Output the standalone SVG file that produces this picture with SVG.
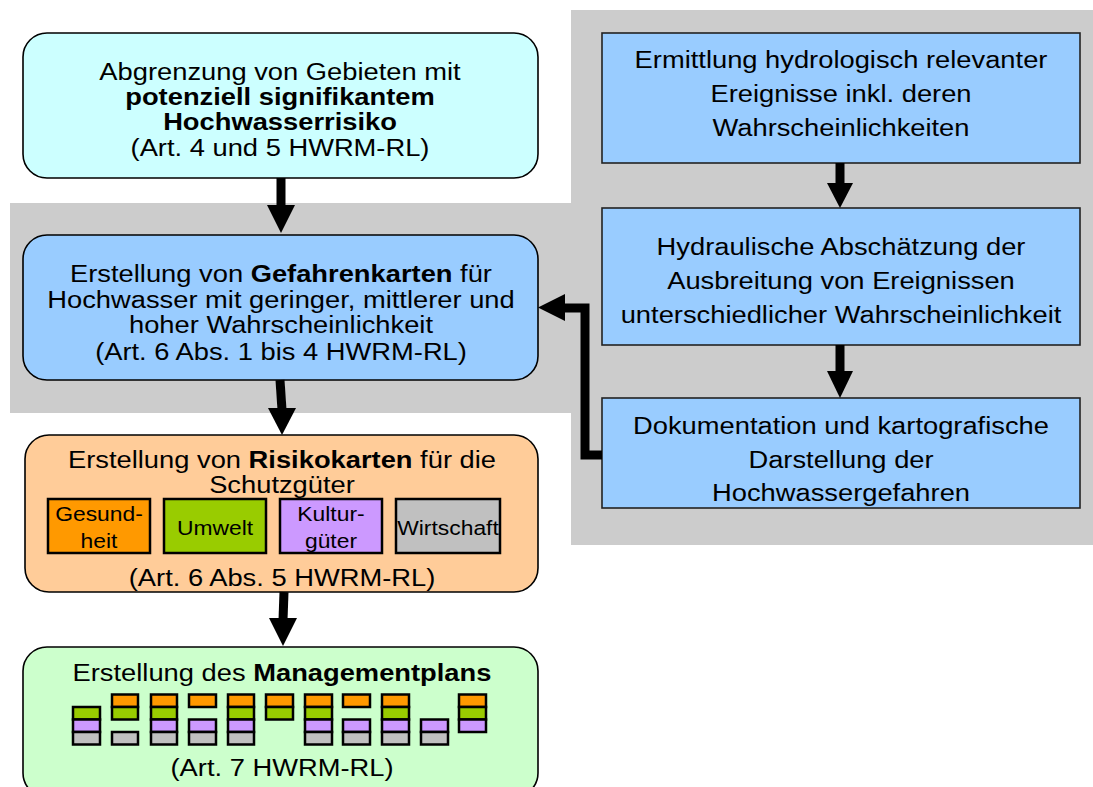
<svg xmlns="http://www.w3.org/2000/svg" width="1093" height="787" viewBox="0 0 1093 787">
<defs>
<style>
text{font-family:"Liberation Sans",Arial,sans-serif;fill:#000}
.t{font-size:24.5px;text-anchor:middle}
.s{font-size:20.5px;text-anchor:middle}
.b{font-weight:bold}
.rb{stroke:#000;stroke-width:1.6}
.rr{fill:#99CCFF;stroke:#222;stroke-width:1.6}
.c{stroke:#000;stroke-width:2.5}
.o{fill:#FF9900}.g{fill:#99CC00}.p{fill:#CC99FF}.y{fill:#C0C0C0}
.ln{fill:none;stroke:#000;stroke-width:9}
</style>
</defs>
<rect width="1093" height="787" fill="#fff"/>
<path id="bg" d="M571,10H1093V545H571V413H10V203H571Z" fill="#CCCCCC"/>
<g id="n1"><rect class="rb" x="23" y="33" width="515" height="145" rx="24" fill="#CCFFFF"/>
<text class="t" transform="translate(280,80) scale(1.115,1)">Abgrenzung von Gebieten mit</text>
<text class="t b" transform="translate(280,105) scale(1.115,1)">potenziell signifikantem</text>
<text class="t b" transform="translate(280,130) scale(1.115,1)">Hochwasserrisiko</text>
<text class="t" transform="translate(280,156) scale(1.115,1)">(Art. 4 und 5 HWRM-RL)</text></g>
<g id="n2"><rect class="rb" x="23" y="235" width="515" height="145" rx="24" fill="#99CCFF"/>
<text class="t" transform="translate(281,282) scale(1.115,1)">Erstellung von <tspan class="b">Gefahrenkarten</tspan> für</text>
<text class="t" transform="translate(281,308) scale(1.115,1)">Hochwasser mit geringer, mittlerer und</text>
<text class="t" transform="translate(281,333) scale(1.115,1)">hoher Wahrscheinlichkeit</text>
<text class="t" transform="translate(281,360) scale(1.115,1)">(Art. 6 Abs. 1 bis 4 HWRM-RL)</text></g>
<g id="n3"><rect class="rb" x="25" y="435" width="513" height="157" rx="24" fill="#FFCC99"/>
<text class="t" transform="translate(282,468) scale(1.115,1)">Erstellung von <tspan class="b">Risikokarten</tspan> für die</text>
<text class="t" transform="translate(282,493) scale(1.115,1)">Schutzgüter</text>
<rect class="c o" x="48" y="499" width="102" height="54"/>
<text class="s" transform="translate(99,521) scale(1.115,1)">Gesund-</text><text class="s" transform="translate(99,548) scale(1.115,1)">heit</text>
<rect class="c g" x="164" y="499" width="102" height="54"/>
<text class="s" transform="translate(215,535) scale(1.115,1)">Umwelt</text>
<rect class="c p" x="280" y="499" width="102" height="54"/>
<text class="s" transform="translate(331,521) scale(1.115,1)">Kultur-</text><text class="s" transform="translate(331,548) scale(1.115,1)">güter</text>
<rect class="c y" x="396" y="499" width="104" height="54"/>
<text class="s" transform="translate(448,535) scale(1.115,1)">Wirtschaft</text>
<text class="t" transform="translate(282,586) scale(1.115,1)">(Art. 6 Abs. 5 HWRM-RL)</text></g>
<g id="n4"><rect class="rb" x="23" y="647" width="515" height="150" rx="24" fill="#CCFFCC"/>
<text class="t" transform="translate(282,681) scale(1.115,1)">Erstellung des <tspan class="b">Managementplans</tspan></text>
<g id="blocks">
<rect class="c g" x="73" y="707" width="27" height="12.5"/><rect class="c p" x="73" y="719.5" width="27" height="12.5"/><rect class="c y" x="73" y="732" width="27" height="12.5"/>
<rect class="c o" x="112" y="694.5" width="26" height="12.5"/><rect class="c g" x="112" y="707" width="26" height="12.5"/><rect class="c y" x="112" y="732" width="26" height="12.5"/>
<rect class="c o" x="151" y="694.5" width="26" height="12.5"/><rect class="c g" x="151" y="707" width="26" height="12.5"/><rect class="c p" x="151" y="719.5" width="26" height="12.5"/><rect class="c y" x="151" y="732" width="26" height="12.5"/>
<rect class="c o" x="189" y="694.5" width="27" height="12.5"/><rect class="c p" x="189" y="719.5" width="27" height="12.5"/><rect class="c y" x="189" y="732" width="27" height="12.5"/>
<rect class="c o" x="228" y="694.5" width="26" height="12.5"/><rect class="c g" x="228" y="707" width="26" height="12.5"/><rect class="c p" x="228" y="719.5" width="26" height="12.5"/><rect class="c y" x="228" y="732" width="26" height="12.5"/>
<rect class="c o" x="266" y="694.5" width="27" height="12.5"/><rect class="c g" x="266" y="707" width="27" height="12.5"/>
<rect class="c o" x="305" y="694.5" width="27" height="12.5"/><rect class="c g" x="305" y="707" width="27" height="12.5"/><rect class="c p" x="305" y="719.5" width="27" height="12.5"/><rect class="c y" x="305" y="732" width="27" height="12.5"/>
<rect class="c o" x="343" y="694.5" width="27" height="12.5"/><rect class="c p" x="343" y="719.5" width="27" height="12.5"/><rect class="c y" x="343" y="732" width="27" height="12.5"/>
<rect class="c o" x="382" y="694.5" width="27" height="12.5"/><rect class="c g" x="382" y="707" width="27" height="12.5"/><rect class="c p" x="382" y="719.5" width="27" height="12.5"/><rect class="c y" x="382" y="732" width="27" height="12.5"/>
<rect class="c p" x="421" y="719.5" width="27" height="12.5"/><rect class="c y" x="421" y="732" width="27" height="12.5"/>
<rect class="c o" x="459" y="694.5" width="27" height="12.5"/><rect class="c g" x="459" y="707" width="27" height="12.5"/><rect class="c p" x="459" y="719.5" width="27" height="12.5"/>
</g>
<text class="t" transform="translate(282,776) scale(1.115,1)">(Art. 7 HWRM-RL)</text></g>
<g id="r1"><rect class="rr" x="602" y="33" width="478" height="130"/>
<text class="t" transform="translate(841,68) scale(1.115,1)">Ermittlung hydrologisch relevanter</text>
<text class="t" transform="translate(841,102) scale(1.115,1)">Ereignisse inkl. deren</text>
<text class="t" transform="translate(841,136) scale(1.115,1)">Wahrscheinlichkeiten</text></g>
<g id="r2"><rect class="rr" x="602" y="208" width="478" height="137"/>
<text class="t" transform="translate(841,255) scale(1.115,1)">Hydraulische Abschätzung der</text>
<text class="t" transform="translate(841,289) scale(1.115,1)">Ausbreitung von Ereignissen</text>
<text class="t" transform="translate(841,323) scale(1.115,1)">unterschiedlicher Wahrscheinlichkeit</text></g>
<g id="r3"><rect class="rr" x="602" y="398" width="478" height="110"/>
<text class="t" transform="translate(841,434) scale(1.115,1)">Dokumentation und kartografische</text>
<text class="t" transform="translate(841,468) scale(1.115,1)">Darstellung der</text>
<text class="t" transform="translate(841,501) scale(1.115,1)">Hochwassergefahren</text></g>
<g id="connectors">
<path class="ln" d="M281,178V206"/><path d="M267,205H295L281,233Z"/>
<path class="ln" d="M280,380L282,410"/><path d="M268,408H296L282,435Z"/>
<path class="ln" d="M284,592L283,620"/><path d="M269,618H297L283,646Z"/>
<path class="ln" d="M840,163V185"/><path d="M827,183H853L840,208Z"/>
<path class="ln" d="M840,345V373"/><path d="M827,371H853L840,398Z"/>
<path class="ln" d="M602,455H585V308H563"/><path d="M565,294V321L538,307.5Z"/>
</g>
</svg>
